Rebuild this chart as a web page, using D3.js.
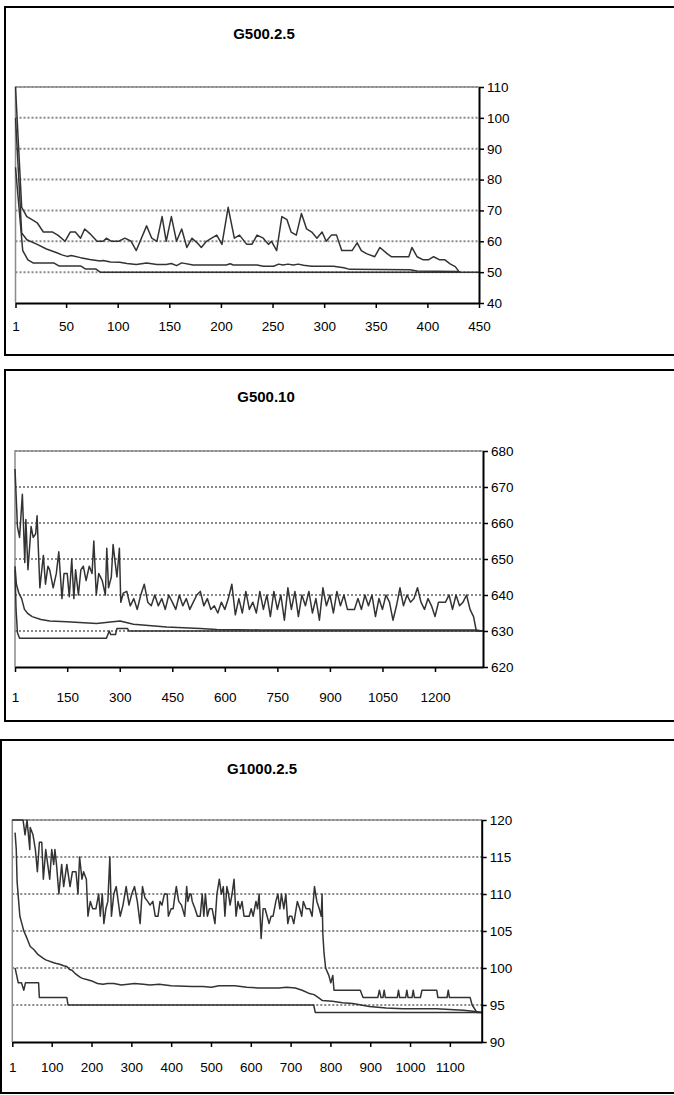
<!DOCTYPE html>
<html>
<head>
<meta charset="utf-8">
<script src="https://cdn.jsdelivr.net/npm/d3@7"></script>
<style>
  body { margin: 0; background: #fff; }
  svg { display: block; }
  .title { font: bold 15px "Liberation Sans", Arial, sans-serif; }
  .axis text { font: 13.5px "Liberation Sans", Arial, sans-serif; fill: #000; }
</style>
</head>
<body>
<script>
// values: [generation, fitness]

// ---- G500.2.5 ----
const g1XTicks = [1, 50, 100, 150, 200, 250, 300, 350, 400, 450];
const g1YTicks = [40, 50, 60, 70, 80, 90, 100, 110];
const g1Worst = [[1,110],[7,71],[12,68],[17,67],[22,66],[28,63],[37,63],[42,62],[49,60],[54,63],[59,63],[64,61],
  [68,64],[73,62.5],[80,60],[86,60],[89,61],[94,60],[101,60],[107,61],[113,60],[118,57],[128,65],[133,61],[138,60],
  [143,68],[147,60],[152,68],[157,60],[162,64],[167,58],[172,61],[177,59.5],[181,58],[186,60],[191,61],[196,62],
  [201,59],[207,71],[213,61],[218,62],[225,59],[230,59],[235,62],[241,61],[246,59],[249,60],[254,57],[259,68],
  [264,67],[268,63],[273,62],[278,69],[283,64],[288,63],[293,61],[298,63],[302,60],[307,62],[312,62],[317,57],
  [327,57],[332,59.5],[336,57],[341,56],[349,55],[354,58],[361,56],[365,55],[382,55],[385,58],[390,55],[396,54],
  [401,54],[406,55],[412,54],[417,54],[422,52.7],[427,51.8],[431,50]];
const g1Mean = [[1,100],[7,62.7],[12,60.5],[22,59],[31,57.5],[41,56.3],[46,55.6],[51,55.1],[55,55.4],[64,54.7],
  [73,54.1],[83,53.6],[86,53.8],[93,53.3],[102,53.2],[109,52.8],[118,52.5],[128,53],[138,52.5],[147,52.5],[152,52.8],
  [157,52.1],[162,53],[173,52.3],[205,52.3],[209,52.7],[212,52.3],[235,52.3],[241,51.9],[251,51.9],[256,52.6],
  [260,52.3],[265,52.6],[270,52.3],[275,52.6],[280,52.2],[288,51.9],[309,51.9],[319,51.4],[325,50.9],[383,50.8],
  [390,50.4],[430,50.2],[432,50]];
const g1Best = [[1,84],[8,57],[13,54],[18,53],[38,53],[43,52],[64,52],[69,51],[79,51],[83,50],[450,50]];

// ---- G500.10 ----
const g2XTicks = [1, 150, 300, 450, 600, 750, 900, 1050, 1200];
const g2YTicks = [620, 630, 640, 650, 660, 670, 680];
const g2Worst = [[1,675],[8,659],[14,656],[22,668],[29,649],[32,661],[38,647],[47,659],[53,656],[60,657],[64,662],
  [72,642],[82,651],[88,643],[95,648],[100,647],[110,642],[119,646],[126,652],[135,639],[141,646],[150,646],
  [156,639.5],[163,650],[169,639],[174,647],[182,640],[189,647],[196,648],[204,644],[213,648],[221,646],[226,655],
  [233,640],[240,646],[250,644],[259,640],[263,653],[268,642],[276,645],[281,654],[287,649],[292,645],[299,653],
  [303,638],[310,640.5],[320,641],[330,637],[340,639],[350,636],[360,640],[370,643],[380,638],[390,637],[400,640],
  [410,637],[420,639],[430,636],[440,640],[450,638],[460,636],[470,640],[480,637],[490,639],[500,636],[510,638],
  [520,640],[530,641],[540,637],[550,639],[560,636],[570,637],[580,635],[590,638],[600,636],[610,639],[620,643],
  [630,634.5],[640,639],[650,635],[660,641],[670,636],[680,638],[690,635],[700,641],[710,636],[720,640],[730,634],
  [740,641],[750,636],[760,640],[770,633],[780,642],[790,636],[800,641],[810,634],[820,640],[830,637],[840,641],
  [850,635],[860,639],[870,633],[880,642],[890,637],[900,640],[910,635],[920,641],[930,637],[940,640],[950,636],
  [970,636],[980,639],[990,636],[1000,640],[1010,637],[1020,640],[1030,634],[1040,639],[1050,636],[1060,640],
  [1070,638],[1080,633],[1090,637],[1100,642],[1110,637],[1120,640],[1130,638],[1140,639],[1150,642],[1160,638],
  [1170,636],[1180,639],[1190,637],[1200,634],[1210,638],[1230,638],[1240,640],[1250,636],[1260,640],[1270,637],
  [1280,638],[1290,640],[1300,636],[1310,634],[1318,630],[1336,630]];
const g2Mean = [[1,648],[5,643],[12,640.5],[20,639],[28,636],[38,634.8],[50,634],[75,633.2],[100,632.8],[149,632.6],
  [234,632.1],[280,632.6],[301,632.8],[339,631.9],[434,631.1],[530,630.7],[577,630.4],[700,630.3],[1318,630.3],
  [1336,630]];
const g2Best = [[1,647],[4,636],[8,629.5],[14,628],[262,628],[270,630],[274,629],[288,629],[292,630.7],[322,630.7],
  [326,630],[1336,630]];

// ---- G1000.2.5 ----
const g3XTicks = [1, 100, 200, 300, 400, 500, 600, 700, 800, 900, 1000, 1100];
const g3YTicks = [90, 95, 100, 105, 110, 115, 120];
const g3Worst = [[1,120],[28,120],[33,118],[38,120],[45,116],[46,119],[53,118],[59,116],[64,113],[69,117],[75,117],
  [79,112],[85,116],[90,114],[95,112],[100,116],[105,114],[108,116],[112,114],[118,110],[125,114],[130,111],
  [138,114],[146,111],[152,113],[161,113],[166,110],[170,115],[176,112],[180,113],[187,112],[191,107],[197,109],
  [203,108],[211,108],[218,110],[222,107],[227,110],[231,106],[236,108],[241,109],[246,115],[250,107],[256,110],
  [262,111],[272,107],[279,108.5],[287,111],[294,108.5],[301,110],[308,111],[315,109],[322,106],[328,111],
  [334,109.5],[341,109],[347,108.5],[354,109],[360,107],[367,107],[372,109],[377,108.5],[383,110],[390,110],
  [393,107],[400,108],[405,108],[410,110],[413,111],[419,109],[426,108.5],[434,107],[439,111],[442,109],[447,110],
  [450,110],[453,109],[460,108],[466,107],[473,107],[478,110],[482,107],[486,110],[491,107],[496,108],[503,108],
  [510,106],[515,110],[521,112],[526,110],[531,111],[535,107],[540,111],[544,110],[548,108.5],[553,110],[558,112],
  [563,107],[568,109],[573,108],[578,109],[583,107],[596,107],[601,108],[606,107],[613,109],[617,108],[621,110],
  [626,104],[631,108],[636,108],[641,107],[646,106],[651,107],[656,107],[663,109],[668,110],[673,108],[677,110],
  [683,108],[688,110],[693,106],[697,107],[703,107],[708,106],[717,109],[723,108],[728,107],[732,109],[739,108],
  [748,108],[754,107],[760,111],[766,109],[772,108],[777,107],[779,110],[781,104.6],[784,102],[788,100],[796,99],
  [801,98],[806,99],[809,97],[875,97],[882,96],[919,96],[923,97],[927,96],[932,96],[935,97],[938,96],[968,96],
  [971,97],[974,96],[989,96],[992,97],[995,96],[1005,96],[1008,97],[1011,96],[1026,96],[1030,97],[1067,97],
  [1070,96],[1093,96],[1096,97],[1099,96],[1151,96],[1156,95],[1168,94],[1180,94]];
const g3Mean = [[8,118.3],[11,116],[13,111.7],[17,109],[20,107],[25,106],[30,105],[38,104],[46,102.9],[55,102.5],
  [66,101.8],[79,101.3],[85,101.1],[105,100.7],[112,100.6],[120,100.5],[130,100.3],[138,100.2],[145,99.8],
  [151,99.7],[160,99.2],[170,98.8],[177,98.6],[190,98.4],[203,98.2],[215,97.9],[229,97.8],[240,97.9],[256,97.9],
  [275,97.7],[308,97.9],[330,97.8],[347,97.7],[370,97.8],[400,97.6],[452,97.5],[480,97.5],[501,97.4],[520,97.6],
  [560,97.6],[590,97.4],[619,97.3],[670,97.3],[690,97.4],[712,97.3],[729,97],[745,96.6],[759,96.4],[770,96],
  [780,95.6],[805,95.5],[830,95.3],[856,95.2],[898,94.8],[940,94.6],[982,94.5],[1066,94.5],[1100,94.4],
  [1134,94.3],[1170,94.1],[1180,94]];
const g3Best = [[8,100],[12,99],[16,98],[24,98],[30,97],[34,98],[67,98],[69,96],[138,96],[141,95],[758,95],
  [762,94],[1180,94]];

// ---- layout ----
const W = 674, H = 1095;

const panels = [
  { title: 'G500.2.5', left: 5, top: 7, bottom: 355, titleX: 264, titleY: 39,
    xDomain: [1, 450], xRange: [15.5, 479], yDomain: [40, 110], yRange: [303, 87],
    xTicks: g1XTicks, yTicks: g1YTicks, series: [g1Worst, g1Mean, g1Best], xPad: 13 },
  { title: 'G500.10', left: 5, top: 370, bottom: 721, titleX: 266, titleY: 402,
    xDomain: [1, 1337], xRange: [15, 483], yDomain: [620, 680], yRange: [667, 451],
    xTicks: g2XTicks, yTicks: g2YTicks, series: [g2Worst, g2Mean, g2Best], xPad: 20 },
  { title: 'G1000.2.5', left: 1, top: 740, bottom: 1093, titleX: 262, titleY: 774,
    xDomain: [1, 1180], xRange: [12.3, 481.7], yDomain: [90, 120], yRange: [1042, 820],
    xTicks: g3XTicks, yTicks: g3YTicks, series: [g3Worst, g3Mean, g3Best], xPad: 15 }
];

const svg = d3.select('body').append('svg')
  .attr('width', W)
  .attr('height', H);

panels.forEach((p, i) => {
  const g = svg.append('g');

  // chart frame (runs off the right edge)
  g.append('rect')
    .attr('x', p.left)
    .attr('y', p.top)
    .attr('width', W + 20 - p.left)
    .attr('height', p.bottom - p.top)
    .attr('fill', 'none')
    .attr('stroke', '#000')
    .attr('stroke-width', 2);

  g.append('text')
    .attr('class', 'title')
    .attr('x', p.titleX)
    .attr('y', p.titleY)
    .attr('text-anchor', 'middle')
    .text(p.title);

  const x = d3.scaleLinear().domain(p.xDomain).range(p.xRange);
  const y = d3.scaleLinear().domain(p.yDomain).range(p.yRange);

  // dotted gridlines
  g.append('g')
    .selectAll('line')
    .data(p.yTicks.filter(t => t !== p.yDomain[0]))
    .enter()
    .append('line')
    .attr('x1', p.xRange[0])
    .attr('x2', p.xRange[1])
    .attr('y1', d => y(d))
    .attr('y2', d => y(d))
    .attr('stroke', '#8a8a8a')
    .attr('stroke-width', 2)
    .attr('stroke-dasharray', '2,2');

  // gray plot-area border, left and top
  g.append('path')
    .attr('d', `M${p.xRange[0]},${p.yRange[0]}V${p.yRange[1]}H${p.xRange[1]}`)
    .attr('fill', 'none')
    .attr('stroke', '#8c8c8c')
    .attr('stroke-width', 1.5);

  const clipId = `clip${i}`;
  g.append('clipPath')
    .attr('id', clipId)
    .append('rect')
    .attr('x', p.xRange[0] - 1)
    .attr('y', p.yRange[1] - 1)
    .attr('width', p.xRange[1] - p.xRange[0] + 2)
    .attr('height', p.yRange[0] - p.yRange[1] + 2);

  const line = d3.line()
    .x(d => x(d[0]))
    .y(d => y(d[1]));

  g.append('g')
    .attr('clip-path', `url(#${clipId})`)
    .selectAll('path')
    .data(p.series)
    .enter()
    .append('path')
    .attr('d', line)
    .attr('fill', 'none')
    .attr('stroke', '#333')
    .attr('stroke-width', 1.5)
    .attr('stroke-linejoin', 'round');

  // axes
  const xAxis = g.append('g')
    .attr('class', 'axis')
    .attr('transform', `translate(0,${p.yRange[0]})`)
    .call(d3.axisBottom(x).tickValues(p.xTicks).tickFormat(d3.format('d'))
      .tickSize(5).tickSizeOuter(0).tickPadding(p.xPad));

  const yAxis = g.append('g')
    .attr('class', 'axis')
    .attr('transform', `translate(${p.xRange[1]},0)`)
    .call(d3.axisRight(y).tickValues(p.yTicks).tickFormat(d3.format('d'))
      .tickSize(5).tickSizeOuter(0).tickPadding(3));

  [xAxis, yAxis].forEach(a => {
    a.select('.domain').attr('stroke', '#000').attr('stroke-width', 2);
    a.selectAll('.tick line').attr('stroke', '#000').attr('stroke-width', 1.5);
  });
});
</script>
</body>
</html>
